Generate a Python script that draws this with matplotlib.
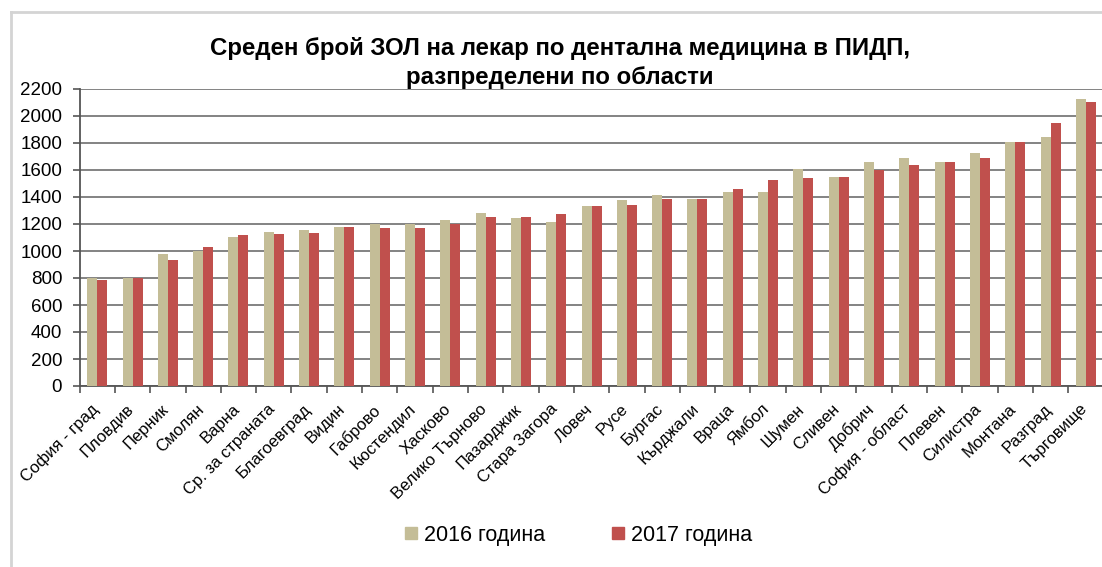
import numpy as np
import matplotlib
matplotlib.use('Agg')
from matplotlib import pyplot as plt
from matplotlib.lines import Line2D
from matplotlib import transforms

plt.rcParams['font.family'] = ['Liberation Sans', 'DejaVu Sans']

regions = ['София - град', 'Пловдив', 'Перник', 'Смолян', 'Варна',
           'Ср. за страната', 'Благоевград', 'Видин', 'Габрово', 'Кюстендил',
           'Хасково', 'Велико Търново', 'Пазарджик', 'Стара Загора', 'Ловеч',
           'Русе', 'Бургас', 'Кърджали', 'Враца', 'Ямбол', 'Шумен', 'Сливен',
           'Добрич', 'София - област', 'Плевен', 'Силистра', 'Монтана',
           'Разград', 'Търговище']
zol_2016 = [797, 797, 975, 1000, 1106, 1138, 1156, 1175, 1200, 1200,
            1227, 1279, 1244, 1217, 1333, 1378, 1412, 1383, 1437, 1439,
            1605, 1551, 1657, 1691, 1657, 1726, 1805, 1847, 2126]
zol_2017 = [783, 797, 931, 1030, 1116, 1126, 1133, 1175, 1173, 1173,
            1200, 1254, 1254, 1272, 1333, 1341, 1383, 1383, 1457, 1526,
            1543, 1551, 1600, 1640, 1657, 1691, 1805, 1946, 2101]
legend_labels = ['2016 година', '2017 година']
title = 'Среден брой ЗОЛ на лекар по дентална медицина в ПИДП,\nразпределени по области'

c16 = '#c4bd97'
c17 = '#c0504d'

fig = plt.figure(figsize=(11.02, 5.67), dpi=100)
ax = fig.add_axes([79.6 / 1102, (567 - 386) / 567, (1103.5 - 79.6) / 1102, 297 / 567])

x = np.arange(len(regions))
w = 0.283
ax.bar(x - w / 2, zol_2016, w, color=c16, label=legend_labels[0], zorder=3)
ax.bar(x + w / 2, zol_2017, w, color=c17, label=legend_labels[1], zorder=3)

ax.set_xlim(-0.5, len(regions) - 0.5)
ax.set_ylim(0, 2200)
ax.set_yticks(np.arange(0, 2201, 200))
ax.yaxis.grid(True, color='#7a7a7a', linewidth=1.3, zorder=0)
ax.set_axisbelow(True)

# category labels sit on the centres, tick marks on the boundaries
ax.set_xticks(x)
ax.set_xticklabels(regions, rotation=45, ha='right', va='top', fontsize=12)
ax.tick_params(axis='x', which='major', length=0, pad=11)
shift = transforms.ScaledTranslation(4 / 100, 0, fig.dpi_scale_trans)
for lbl in ax.get_xticklabels():
    lbl.set_transform(lbl.get_transform() + shift)
ax.set_xticks(np.arange(-0.5, len(regions), 1), minor=True)
ax.tick_params(axis='x', which='minor', length=5, width=1.2, color='#555555')
ax.tick_params(axis='y', length=5, width=1.2, color='#555555', labelsize=13.5, pad=7.5)

for s in ['top', 'right']:
    ax.spines[s].set_visible(False)
for s in ['left', 'bottom']:
    ax.spines[s].set_color('#555555')
    ax.spines[s].set_linewidth(1.3)

fig.text(560 / 1102, 1 - 63 / 567, title, ha='center', va='center',
         fontsize=17.3, fontweight='bold', linespacing=1.3)

handles = [Line2D([], [], marker='s', linestyle='none', markersize=8, color=c)
           for c in (c16, c17)]
fig.legend(handles, legend_labels, loc='center', bbox_to_anchor=(578 / 1102, 1 - 535 / 567),
           ncol=2, frameon=False, fontsize=15.5, handletextpad=0.3,
           columnspacing=3.1, handlelength=0.6)

# light frame around the chart
fig.add_artist(Line2D([10.5 / 1102, 10.5 / 1102], [0, 1 - 12 / 567],
                      color='#d4d4d4', linewidth=2, transform=fig.transFigure))
fig.add_artist(Line2D([10.5 / 1102, 1], [1 - 12 / 567, 1 - 12 / 567],
                      color='#d4d4d4', linewidth=2, transform=fig.transFigure))

plt.savefig('out.png', dpi=100)
